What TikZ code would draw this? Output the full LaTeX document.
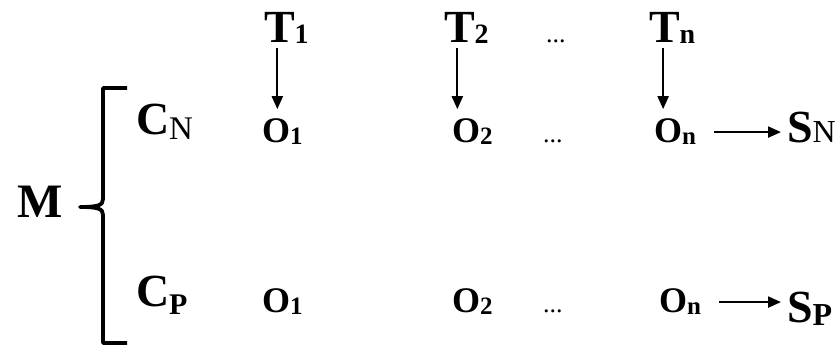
\documentclass[tikz,border=0pt]{standalone}
\usepackage{fontspec}
\setmainfont{Liberation Serif}
\usepackage{tikz}
\usetikzlibrary{arrows.meta,positioning}
\newcommand{\lo}[3]{\raisebox{-#1}{\fontsize{#2}{#2}\selectfont #3}}

\begin{document}
\begin{tikzpicture}[x=1pt, y=1pt,
  big/.style={anchor=base west, inner sep=0pt, outer sep=4pt,
              font=\fontsize{46}{46}\selectfont\bfseries},
  obs/.style={anchor=base west, inner sep=0pt, outer sep=4pt,
              font=\fontsize{36}{36}\selectfont\bfseries},
  dots/.style={anchor=base west, inner sep=0pt, font=\fontsize{26}{26}\selectfont},
  arr/.style={-{Triangle[length=13pt, width=11pt]}, line width=2.2pt},
  brace/.style={line width=3.8pt, line join=round, line cap=butt}
]
  \useasboundingbox (0,0) rectangle (835,347);

  % Nodes
  \node[big, font=\fontsize{48}{48}\selectfont\bfseries] (m) at (13,129) {M};

  \node[big] (t1) at (260,304) {T\lo{1pt}{28}{1}};
  \node[big] (t2) at (440,304) {T\lo{1pt}{28}{2}};
  \node[dots] (td) at (546,304) {...};
  \node[big] (tn) at (645,304) {T\lo{1pt}{28}{n}};

  \node[big] (cn) at (132,212) {C\lo{5pt}{33}{\mdseries N}};
  \node[obs] (o1n) at (258,204) {O\lo{2pt}{25}{1}};
  \node[obs] (o2n) at (448,204) {O\lo{2pt}{25}{2}};
  \node[dots] (dn) at (543,204) {...};
  \node[obs] (onn) at (650,204) {O\lo{2pt}{25}{n}};
  \node[big] (sn) at (783,204) {S\lo{0pt}{32}{\mdseries N}};

  \node[big] (cp) at (132,40) {C\lo{8pt}{30}{P}};
  \node[obs] (o1p) at (258,34) {O\lo{2pt}{25}{1}};
  \node[obs] (o2p) at (448,34) {O\lo{2pt}{25}{2}};
  \node[dots] (dp) at (543,34) {...};
  \node[obs] (onp) at (655,34) {O\lo{2pt}{25}{n}};
  \node[big] (sp) at (783,24) {S\lo{3pt}{32}{P}};

  % Bracket
  \draw[brace] (127,259) -- (103,259) -- (103,148)
    .. controls (103,142) and (99,140) .. (80,140)
    .. controls (99,140) and (103,138) .. (103,132)
    -- (103,4) -- (127,4);

  % Arrows
  \draw[arr, shorten >=6pt] ([xshift=-9pt]t1.south) -- ([xshift=-9pt]t1.south |- o1n.north);
  \draw[arr, shorten >=6pt] ([xshift=-9pt]t2.south) -- ([xshift=-9pt]t2.south |- o2n.north);
  \draw[arr, shorten >=6pt] ([xshift=-9pt]tn.south) -- ([xshift=-9pt]tn.south |- onn.north);
  \draw[arr, shorten <=14pt, shorten >=2pt] (onn.east) -- (onn.east -| sn.west);
  \draw[arr, shorten <=14pt, shorten >=2pt] (onp.east) -- (onp.east -| sp.west);
\end{tikzpicture}
\end{document}
